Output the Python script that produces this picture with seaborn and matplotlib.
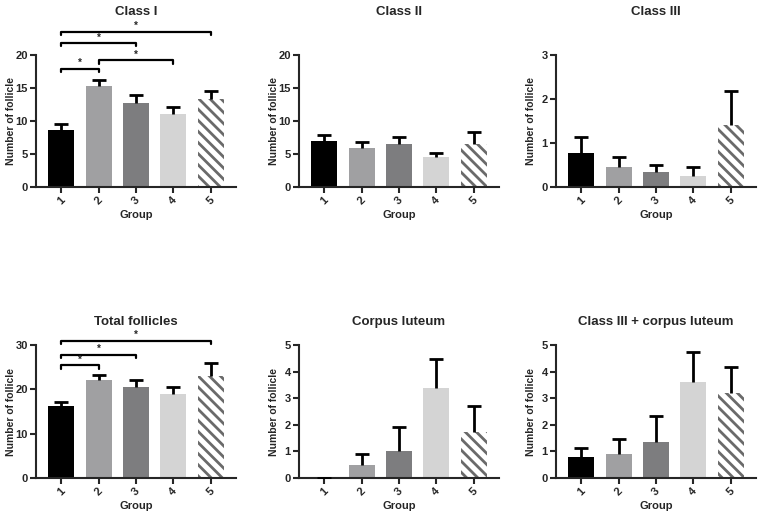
import numpy as np
import pandas as pd
import seaborn as sns
import matplotlib
matplotlib.use("Agg")
import matplotlib.pyplot as plt

groups = ["1", "2", "3", "4", "5"]
bar_colors = ["#000000", "#a0a0a2", "#7d7d7f", "#d4d4d4", "#ffffff"]

# mean and SEM
class1_mean = [8.7, 15.3, 12.8, 11.0, 13.3]
class1_sem = [0.9, 0.9, 1.2, 1.1, 1.3]
class2_mean = [6.9, 5.9, 6.55, 4.5, 6.5]
class2_sem = [1.0, 0.85, 1.0, 0.65, 1.8]
class3_mean = [0.77, 0.46, 0.35, 0.24, 1.41]
class3_sem = [0.36, 0.23, 0.15, 0.21, 0.77]
total_mean = [16.2, 22.0, 20.6, 19.0, 23.1]
total_sem = [0.9, 1.3, 1.5, 1.5, 2.9]
cl_mean = [0.0, 0.47, 1.03, 3.38, 1.74]
cl_sem = [0.0, 0.43, 0.87, 1.1, 0.98]
c3cl_mean = [0.78, 0.92, 1.37, 3.6, 3.18]
c3cl_sem = [0.35, 0.53, 0.95, 1.15, 0.98]

# significance brackets: (group a, group b, height)
class1_sig = [(0, 1, 17.9), (1, 3, 19.2), (0, 2, 21.8), (0, 4, 23.5)]
total_sig = [(0, 1, 25.4), (0, 2, 27.8), (0, 4, 31.0)]

sns.set_style("ticks")
plt.rcParams["font.family"] = ["Liberation Sans", "DejaVu Sans"]
plt.rcParams["font.weight"] = "bold"
plt.rcParams["axes.labelweight"] = "bold"
plt.rcParams["hatch.linewidth"] = 2.0

fig = plt.figure(figsize=(7.67, 5.18), dpi=100)

lefts = [36 / 767, 299 / 767, 556 / 767]
w = 200 / 767
row1 = (1 - 187 / 518, 132 / 518)
row2 = (1 - 478 / 518, 133 / 518)


def draw_panel(pos, title, means, sems, ymax, yticks, title_y, sig=None, tick_h=0.5):
    ax = fig.add_axes(pos)
    df = pd.DataFrame({"Group": groups, "value": means})
    sns.barplot(data=df, x="Group", y="value", hue="Group", palette=bar_colors,
                legend=False, width=0.7, saturation=1, errorbar=None, ax=ax)
    for i, p in enumerate(ax.patches):
        p.set_linewidth(0)
        if i == 4:
            p.set_facecolor("white")
            p.set_edgecolor("#6a6a6a")
            p.set_hatch("\\\\\\")
    # upper error bars only
    _, caps, _ = ax.errorbar(range(5), means, yerr=[np.zeros(5), sems], fmt="none",
                             ecolor="black", elinewidth=2, capsize=5, capthick=2,
                             zorder=3)
    caps[0].set_visible(False)
    ax.set_xlim(-0.68, 4.68)
    ax.set_ylim(0, ymax)
    ax.set_yticks(yticks)
    sns.despine(ax=ax)
    for s in ["left", "bottom"]:
        ax.spines[s].set_linewidth(1.5)
    ax.tick_params(axis="both", length=4, width=1.5, labelsize=8, pad=2)
    ax.tick_params(axis="x", labelrotation=45)
    ax.set_ylabel("Number of follicle", fontsize=7.5)
    ax.set_xlabel("Group", fontsize=8)
    ax.yaxis.set_label_coords(-0.1, 0.5)
    ax.xaxis.set_label_coords(0.5, -0.175)
    ax.text(0.5, title_y, title, transform=ax.transAxes, ha="center",
            va="center", fontsize=9.5, fontweight="bold")
    if sig:
        for a, b, y in sig:
            ax.plot([a, a, b, b], [y - tick_h, y, y, y - tick_h], color="black",
                    lw=1.6, clip_on=False)
            ax.text((a + b) / 2, y + tick_h * 0.2, "*", ha="center", va="bottom",
                    fontsize=7)
    return ax


draw_panel([lefts[0], row1[0], w, row1[1]], "Class I", class1_mean, class1_sem,
           20, [0, 5, 10, 15, 20], 1.326, class1_sig, 0.5)
draw_panel([lefts[1], row1[0], w, row1[1]], "Class II", class2_mean, class2_sem,
           20, [0, 5, 10, 15, 20], 1.326)
draw_panel([lefts[2], row1[0], w, row1[1]], "Class III", class3_mean, class3_sem,
           3, [0, 1, 2, 3], 1.326)
draw_panel([lefts[0], row2[0], w, row2[1]], "Total follicles", total_mean, total_sem,
           30, [0, 10, 20, 30], 1.173, total_sig, 0.75)
draw_panel([lefts[1], row2[0], w, row2[1]], "Corpus luteum", cl_mean, cl_sem,
           5, [0, 1, 2, 3, 4, 5], 1.173)
draw_panel([lefts[2], row2[0], w, row2[1]], "Class III + corpus luteum", c3cl_mean,
           c3cl_sem, 5, [0, 1, 2, 3, 4, 5], 1.173)

fig.savefig("out.png", dpi=100)
